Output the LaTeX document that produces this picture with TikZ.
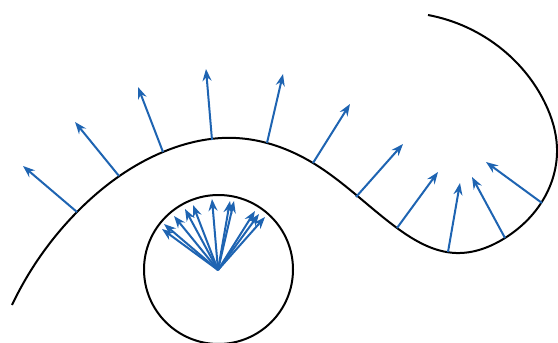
\documentclass[tikz,border=0pt]{standalone}
\usetikzlibrary{arrows.meta,calc,hobby}
\definecolor{nblue}{RGB}{30,100,178}
\begin{document}
\begin{tikzpicture}[x=1pt,y=-1pt,
  curveline/.style={line width=2pt,black},
  nrm/.style={line width=2pt,nblue,-{Stealth[length=12pt,width=9pt,inset=4pt]}}]
\useasboundingbox (0,0) rectangle (558,343);
% normals: start and tip
\foreach \i/\sx/\sy/\tx/\ty in {
 1/77/212/23/166, 2/119/176/75/122, 3/163/152/138/87, 4/212/140/206/69,
 5/267/143/283/74, 6/313/163/350/104, 7/356/197/403/144, 8/397/228/438/172,
 9/448/252/460/183, 10/505/238/472/177, 11/542/203/486/162}{
  \coordinate (s\i) at (\sx,\sy);
  \coordinate (t\i) at (\tx,\ty);
}
% curve
\draw[curveline] (12,305) to[curve through={(77,212) (163,152) (236,138) (313,163)
 (397,228) (456,253) (505,238) (543,200) (557,148) (545,103) (503,50)}] (428,15);
% circle
\node[draw,curveline,circle,minimum size=149pt,inner sep=0pt] (g) at (218.5,269.5) {};
\coordinate (c) at (218,270);
\foreach \i in {1,...,11}{
  \draw[nrm] (s\i) -- (t\i);
  \draw[nrm] (c) -- ($(c)+(t\i)-(s\i)$);
}
\end{tikzpicture}
\end{document}
